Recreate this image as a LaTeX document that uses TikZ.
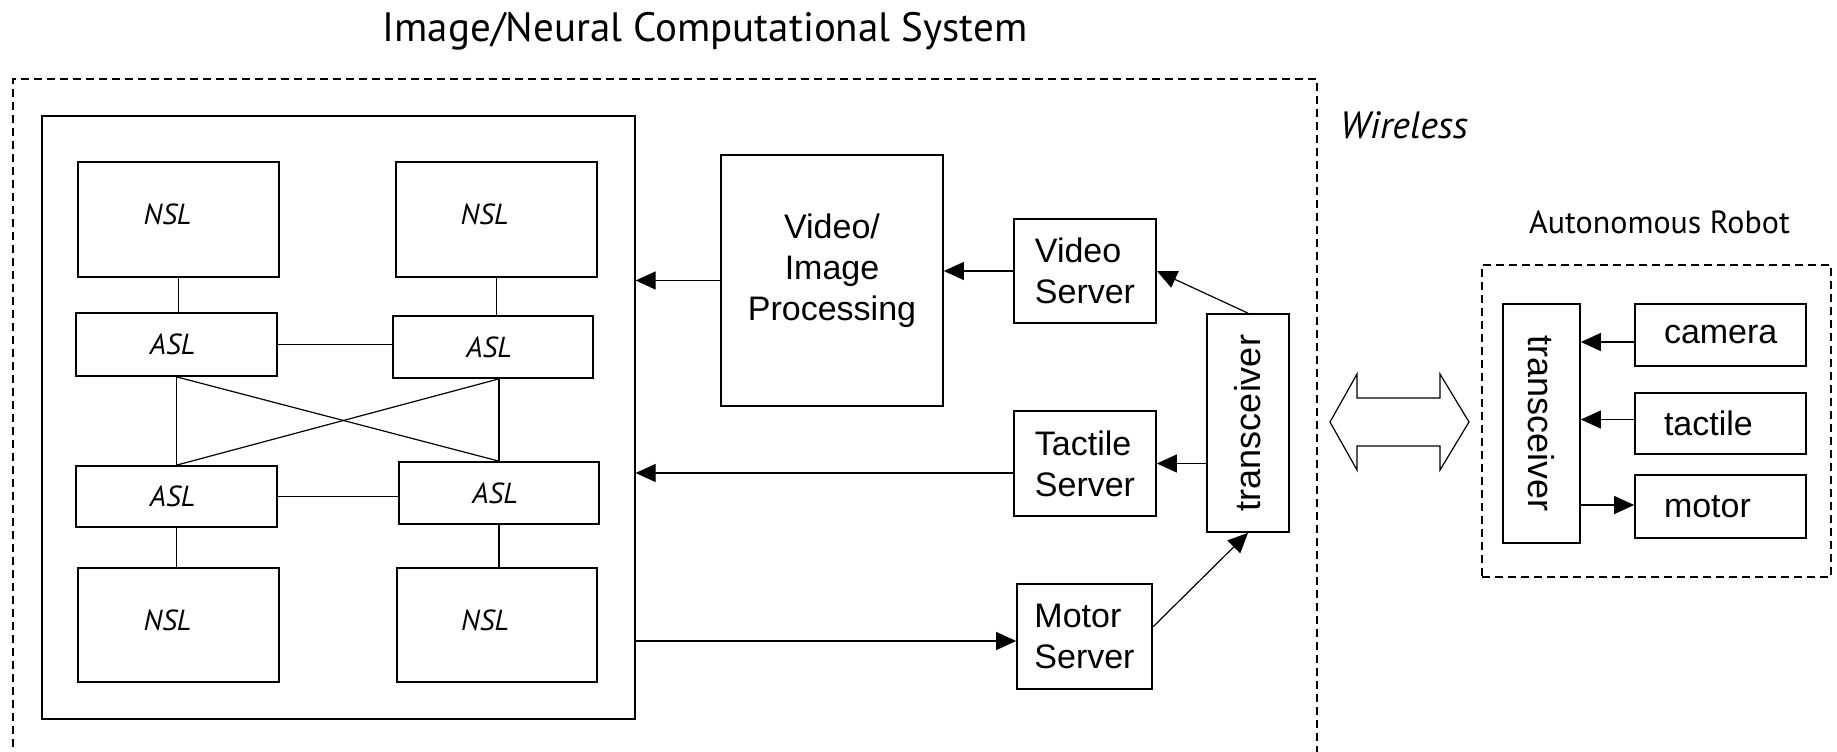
\documentclass[tikz,border=0pt]{standalone}
\usepackage{fontspec}
\setmainfont{Liberation Sans}
\newfontfamily\ptsans{PT Sans}
\usetikzlibrary{arrows.meta,calc}
\begin{document}
\begin{tikzpicture}[x=1pt,y=-1pt,
  box/.style={draw,line width=1.7pt,inner sep=0pt,align=left,font=\fontsize{34pt}{41pt}\selectfont},
  layer/.style={draw,line width=1.7pt,inner sep=0pt,font=\ptsans\itshape\fontsize{29pt}{34pt}\selectfont},
  frame/.style={draw,line width=1.2pt,inner sep=0pt},
  link/.style={line width=1.2pt},
  arr/.style={line width=1.2pt,-{Triangle[length=20pt,width=18pt]}},
  dashbox/.style={line width=1.5pt,dash pattern=on 8pt off 5pt},
]
\useasboundingbox (0,0) rectangle (1837,752);

% titles
\node[font=\ptsans\fontsize{41pt}{48pt}\selectfont, anchor=base, inner sep=0pt] (title) at (705,42) {Image/Neural Computational System};
\node[font=\ptsans\itshape\fontsize{38pt}{42pt}\selectfont, anchor=base west, inner sep=0pt] (wireless) at (1340,138) {Wireless};
\node[font=\ptsans\fontsize{32pt}{36pt}\selectfont, anchor=base west, inner sep=0pt] (robottitle) at (1529,233) {Autonomous Robot};

% outer dashed frame (open at the bottom)
\draw[dashbox] (13,760) -- (13,79) -- (1317,79) -- (1317,760);

% inner neural block
\node[frame, minimum width=593pt, minimum height=603pt] (inner) at (338.5,417.5) {};
\node[layer, minimum width=201pt, minimum height=115pt, text depth=10pt] (nsltl) at (178.5,219.5) {\hspace*{-22pt}NSL};
\node[layer, minimum width=201pt, minimum height=115pt, text depth=10pt] (nsltr) at (496.5,219.5) {\hspace*{-24pt}NSL};
\node[layer, minimum width=201pt, minimum height=63pt] (asltl) at (176.5,344.5) {\hspace*{-8pt}ASL};
\node[layer, minimum width=200pt, minimum height=62pt] (asltr) at (493,347) {\hspace*{-8pt}ASL};
\node[layer, minimum width=201pt, minimum height=61pt] (aslbl) at (176.5,496.5) {\hspace*{-8pt}ASL};
\node[layer, minimum width=200pt, minimum height=62pt] (aslbr) at (499,493) {\hspace*{-8pt}ASL};
\node[layer, minimum width=201pt, minimum height=114pt, text depth=10pt] (nslbl) at (178.5,625) {\hspace*{-22pt}NSL};
\node[layer, minimum width=200pt, minimum height=114pt, text depth=10pt] (nslbr) at (497,625) {\hspace*{-24pt}NSL};

\draw[link] (nsltl.south) -- (nsltl.south |- asltl.north);
\draw[link] (nsltr.south) -- (nsltr.south |- asltr.north);
\draw[link] (asltl.east) -- (asltl.east -| asltr.west);
\draw[link] (aslbl.east) -- (aslbl.east -| aslbr.west);
\draw[link] (aslbl.south) -- (aslbl.south |- nslbl.north);
\draw[link] (aslbr.south) -- (aslbr.south |- nslbr.north);
\draw[link] (asltl.south) -- (aslbl.north);
\draw[link] (aslbr.north) -- (aslbr.north |- asltr.south);
\draw[link] (asltl.south) -- (aslbr.north);
\draw[link] (aslbl.north) -- (aslbr.north |- asltr.south);

% processing and servers
\node[box, align=center, minimum width=222pt, minimum height=251pt] (vip) at (832,280.5) {Video/\\Image\\Processing\rule[-27pt]{0pt}{27pt}};
\node[box, minimum width=142pt, minimum height=104pt] (vs) at (1085,271) {Video\\Server};
\node[box, minimum width=142pt, minimum height=105pt] (ts) at (1085,463.5) {Tactile\\Server};
\node[box, minimum width=135pt, minimum height=105pt] (ms) at (1084.5,636.5) {Motor\\Server};
\node[box, minimum width=82pt, minimum height=218pt, font=\fontsize{36pt}{40pt}\selectfont] (trans) at (1248,423) {\rotatebox{90}{transceiver}};

\draw[arr] (vs.west) -- (vs.west -| vip.east);
\draw[arr] (vip.west) -- (vip.west -| inner.east);
\draw[arr] (trans.north) -- (vs.east);
\draw[arr] (ts.east -| trans.west) -- (ts.east);
\draw[arr] ([yshift=-9.5pt]ts.west) -- ([yshift=-9.5pt]ts.west -| inner.east);
\draw[arr] ([yshift=-4.5pt]ms.west -| inner.east) -- ([yshift=-4.5pt]ms.west);
\draw[arr] ([yshift=9.5pt]ms.east) -- (trans.south);

% wireless double arrow
\draw[line width=1.2pt] (1330,422) -- (1357,374) -- (1357,398) -- (1440,398) -- (1440,374)
  -- (1469,422) -- (1440,470) -- (1440,446) -- (1357,446) -- (1357,470) -- cycle;

% autonomous robot
\node[dashbox, draw, minimum width=349pt, minimum height=312pt, inner sep=0pt] (robot) at (1656.5,421) {};
\node[box, minimum width=77pt, minimum height=239pt, font=\fontsize{36pt}{40pt}\selectfont] (rt) at (1541.5,423.5) {\rotatebox{-90}{transceiver}};
\node[box, text width=113pt, minimum width=171pt, minimum height=62pt] (camera) at (1720.5,335) {camera};
\node[box, text width=113pt, minimum width=171pt, minimum height=61pt] (tactile) at (1720.5,423.5) {tactile};
\node[box, text width=113pt, minimum width=171pt, minimum height=63pt] (motor) at (1720.5,506.5) {motor};

\draw[arr] ([yshift=-7pt]camera.west) -- ([yshift=-7pt]camera.west -| rt.east);
\draw[arr] ([yshift=4pt]tactile.west) -- ([yshift=4pt]tactile.west -| rt.east);
\draw[arr] ([yshift=1.5pt]motor.west -| rt.east) -- ([yshift=1.5pt]motor.west);
\end{tikzpicture}
\end{document}
